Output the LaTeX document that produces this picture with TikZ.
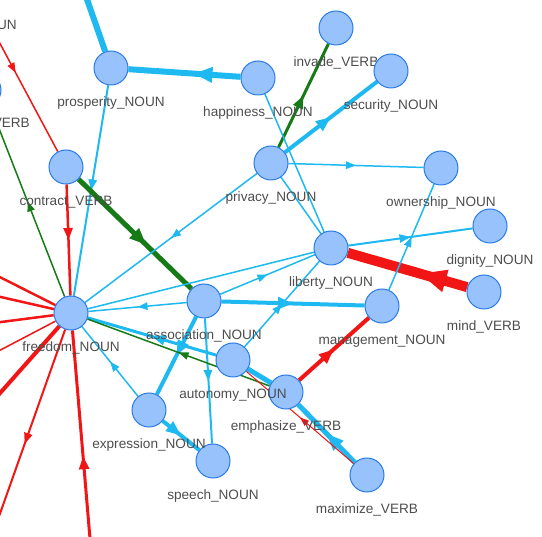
\documentclass[tikz,border=0pt]{standalone}
\usepackage{fontspec}
\setmainfont{Liberation Sans}
\usepackage{tikz}
\usetikzlibrary{arrows.meta, decorations.markings}

\definecolor{nodefill}{HTML}{97C2FC}
\definecolor{nodeline}{HTML}{2B7CE9}
\definecolor{edgeblue}{HTML}{1EB9F0}
\definecolor{edgered}{HTML}{F21515}
\definecolor{edgegreen}{HTML}{167A16}
\definecolor{lbltext}{HTML}{4D4D4D}

\pgfdeclarelayer{edges}
\pgfsetlayers{edges,main}

\begin{document}
\begin{tikzpicture}[
  x=1pt, y=-1pt,
  label distance=11pt,
  concept/.style={
    circle, draw=nodeline, fill=nodefill, line width=1pt,
    minimum size=34pt, inner sep=0pt,
    label={[lbl]below:#1}
  },
  concept/.default={},
  lbl/.style={font=\fontsize{13.6}{16}\selectfont, text=lbltext,
    inner sep=0pt, text height=10pt, text depth=3pt},
  arr/.style={postaction={decorate, decoration={markings,
    mark=at position #1 with {\arrow{Triangle[length=7pt 2, width=5pt 1.6]}}}}},
  arr/.default=0.5,
  cblue/.style={edgeblue},
  cred/.style={edgered},
  cgreen/.style={edgegreen}
]
\useasboundingbox (0,0) rectangle (542,537);

% nodes
\node[concept=prosperity\_NOUN] (prosperity) at (111,68) {};
\node[concept=happiness\_NOUN] (happiness) at (258,78) {};
\node[concept=invade\_VERB] (invade) at (336,28) {};
\node[concept=security\_NOUN] (security) at (391,71) {};
\node[concept=privacy\_NOUN] (privacy) at (271,163) {};
\node[concept=ownership\_NOUN] (ownership) at (441,168) {};
\node[concept=contract\_VERB] (contract) at (66,167) {};
\node[concept=dignity\_NOUN] (dignity) at (490,226) {};
\node[concept=liberty\_NOUN] (liberty) at (331,248) {};
\node[concept=mind\_VERB] (mind) at (484,292) {};
\node[concept=freedom\_NOUN] (freedom) at (71,313) {};
\node[concept=association\_NOUN] (association) at (204,301) {};
\node[concept=management\_NOUN] (management) at (382,306) {};
\node[concept=emphasize\_VERB] (emphasize) at (286,392) {};
\node[concept=autonomy\_NOUN] (autonomy) at (233,360) {};
\node[concept=speech\_NOUN] (speech) at (213,461) {};
\node[concept=expression\_NOUN] (expression) at (149,410) {};
\node[concept=maximize\_VERB] (maximize) at (367,475) {};

% nodes cut by the frame
\node[concept] (offnoun) at (-27,-7) {};
\node[lbl, anchor=east] (offnounlbl) at (17,26.5) {\_NOUN};
\node[concept] (offverb) at (-16,90) {};
\node[lbl, anchor=east] (offverblbl) at (30,124) {\_VERB};
\coordinate (topoff) at (75,-35);
\coordinate (west1) at (-30,262);
\coordinate (west2) at (-30,290);
\coordinate (west3) at (-30,326);
\coordinate (west4) at (-30,366);
\coordinate (west5) at (-30,427);
\coordinate (southwest) at (-21,573);
\coordinate (south) at (95,598);

\begin{pgfonlayer}{edges}
\draw[cblue, line width=6pt] (topoff) -- (prosperity);
\draw[cred, line width=2.5pt] (freedom) -- (west1);
\draw[cred, line width=2.5pt] (freedom) -- (west2);
\draw[cred, line width=2.5pt] (freedom) -- (west3);
\draw[cred, line width=1.5pt] (freedom) -- (west4);
\draw[cred, line width=4pt] (freedom) -- (west5);
\draw[cred, line width=2pt, arr=0.47] (freedom) -- (southwest);
\draw[cred, line width=3pt, arr=0.53] (south) -- (freedom);
\draw[cred, line width=1.5pt, arr=0.45] (offnoun) -- (contract);
\draw[cgreen, line width=1.5pt, arr] (freedom) -- (offverb);

% upper part
\draw[cblue, line width=6pt, arr=0.42] (happiness) -- (prosperity);
\draw[cblue, line width=2pt, arr] (prosperity) -- (freedom);
\draw[cred, line width=2.5pt, arr] (contract) -- (freedom);
\draw[cgreen, line width=5pt, arr=0.6] (contract) -- (association);
\draw[cblue, line width=1.5pt, arr] (privacy) -- (freedom);
\draw[cgreen, line width=3pt, arr] (privacy) -- (invade);
\draw[cblue, line width=4pt, arr] (privacy) -- (security);
\draw[cblue, line width=1.5pt, arr] (privacy) -- (ownership);
\draw[cblue, line width=1.5pt] (privacy) -- (liberty);
\draw[cblue, line width=1.5pt] (happiness) -- (liberty);

% around liberty
\draw[cblue, line width=2pt, arr] (liberty) -- (dignity);
\draw[cred, line width=10pt, arr=0.4] (mind) -- (liberty);
\draw[cblue, line width=1.5pt, arr] (management) -- (ownership);
\draw[cblue, line width=1.5pt] (freedom) -- (liberty);
\draw[cblue, line width=1.5pt, arr] (association) -- (liberty);
\draw[cblue, line width=1.5pt, arr] (autonomy) -- (liberty);

% lower part
\draw[cblue, line width=1.5pt, arr] (association) -- (freedom);
\draw[cblue, line width=4pt, arr] (association) -- (management);
\draw[cblue, line width=4pt, arr] (association) -- (expression);
\draw[cblue, line width=2pt, arr] (association) -- (speech);
\draw[cblue, line width=3pt, arr] (autonomy) -- (freedom);
\draw[cblue, line width=5pt] (autonomy) -- (emphasize);
\draw[cgreen, line width=1.5pt, arr] (emphasize) -- (freedom);
\draw[cred, line width=4pt, arr] (emphasize) -- (management);
\draw[cblue, line width=5pt, arr] (maximize) -- (emphasize);
\draw[cred, line width=1pt, arr] (maximize) -- (autonomy);
\draw[cblue, line width=1.5pt, arr] (expression) -- (freedom);
\draw[cblue, line width=4pt, arr] (expression) -- (speech);
\end{pgfonlayer}
\end{tikzpicture}
\end{document}
